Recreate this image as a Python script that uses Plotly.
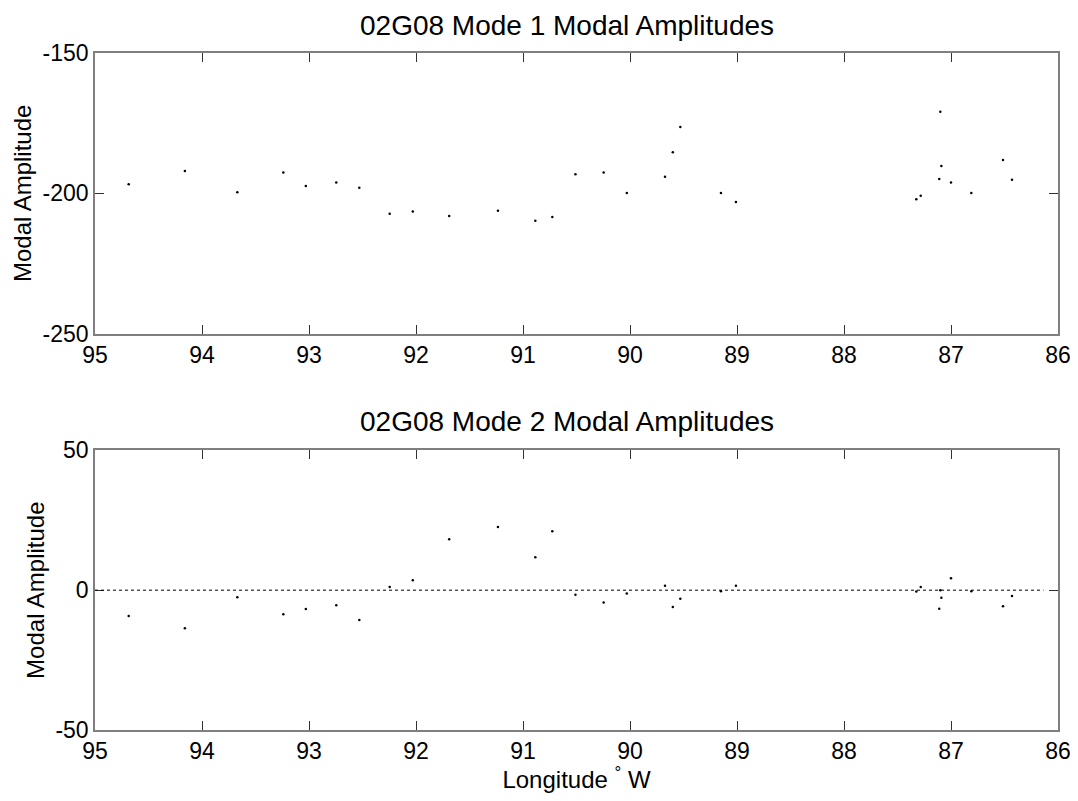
import plotly.graph_objects as go
from plotly.subplots import make_subplots

# longitudes (deg W) of the stations
lon = [94.685, 94.16, 93.67, 93.24, 93.03, 92.745, 92.53, 92.246, 92.03, 91.69,
       91.234, 90.885, 90.726, 90.51, 90.246, 90.03, 89.673, 89.60, 89.53, 89.15,
       89.01, 87.324, 87.283, 87.10, 87.09, 87.11, 87.0, 86.81, 86.514, 86.43]

mode1 = [-196.8, -192.0, -199.6, -192.6, -197.4, -196.1, -198.0, -207.3, -206.5, -208.1,
         -206.2, -209.8, -208.4, -193.2, -192.6, -199.9, -194.1, -185.4, -176.4, -199.9,
         -203.1, -202.1, -200.9, -170.9, -190.3, -194.9, -196.1, -199.9, -188.1, -195.2]

mode2 = [-9.2, -13.6, -2.5, -8.6, -6.7, -5.4, -10.7, 1.1, 3.6, 18.2,
         22.6, 11.8, 21.1, -1.6, -4.4, -1.2, 1.6, -6.0, -3.1, -0.4,
         1.6, -0.5, 1.1, 0.0, -2.7, -6.6, 4.3, -0.4, -5.7, -2.1]

titles = ["02G08 Mode 1 Modal Amplitudes", "02G08 Mode 2 Modal Amplitudes"]
xticks = [95, 94, 93, 92, 91, 90, 89, 88, 87, 86]
yticks1 = [-250, -200, -150]
yticks2 = [-50, 0, 50]
FONT = "Liberation Sans, Arial, sans-serif"

fig = make_subplots(rows=2, cols=1, vertical_spacing=0.17)

fig.add_trace(go.Scatter(x=lon, y=mode1, mode="markers",
                         marker=dict(size=2.5, color="black")), row=1, col=1)
fig.add_trace(go.Scatter(x=lon, y=mode2, mode="markers",
                         marker=dict(size=2.5, color="black")), row=2, col=1)

# dotted zero line in the lower panel
fig.add_shape(type="line", xref="x2 domain", yref="y2", x0=0, x1=0.985, y0=0, y1=0,
              line=dict(color="black", width=1, dash="dot"))

axis_common = dict(showgrid=False, zeroline=False, showline=True, mirror="ticks",
                   linecolor="#7f7f7f", linewidth=1.5, ticks="inside", ticklen=9,
                   tickcolor="#333333", tickfont=dict(size=23, color="black"),
                   automargin=False, ticklabeloverflow="allow")

for r in (1, 2):
    fig.update_xaxes(range=[95, 86], tickvals=xticks, ticktext=[str(v) for v in xticks],
                     **axis_common, row=r, col=1)
fig.update_yaxes(range=[-250, -150], tickvals=yticks1, ticktext=[str(v) for v in yticks1],
                 row=1, col=1, **axis_common)
fig.update_yaxes(range=[-50, 50], tickvals=yticks2, ticktext=[str(v) for v in yticks2],
                 row=2, col=1, **axis_common)

fig.update_yaxes(title=dict(text="Modal Amplitude", font=dict(size=24), standoff=4))
fig.update_xaxes(title=dict(text="Longitude <sup>°</sup> W", font=dict(size=24), standoff=2),
                 row=2, col=1)

fig.update_layout(
    xaxis=dict(domain=[0, 1]),
    yaxis=dict(domain=[0.5854, 1.0]),
    yaxis2=dict(domain=[0.0, 0.413]),
    width=1066, height=785,
    margin=dict(l=87, r=16, t=45, b=63),
    plot_bgcolor="white", paper_bgcolor="white",
    font=dict(family=FONT, color="black"),
    showlegend=False,
    annotations=[
        dict(text=titles[0], xref="paper", yref="paper", x=0.49, y=1.0, yshift=10,
             xanchor="center", yanchor="bottom", showarrow=False, font=dict(size=28)),
        dict(text=titles[1], xref="paper", yref="paper", x=0.49, y=0.413, yshift=11,
             xanchor="center", yanchor="bottom", showarrow=False, font=dict(size=28)),
    ],
)

fig.write_html("out.html")
